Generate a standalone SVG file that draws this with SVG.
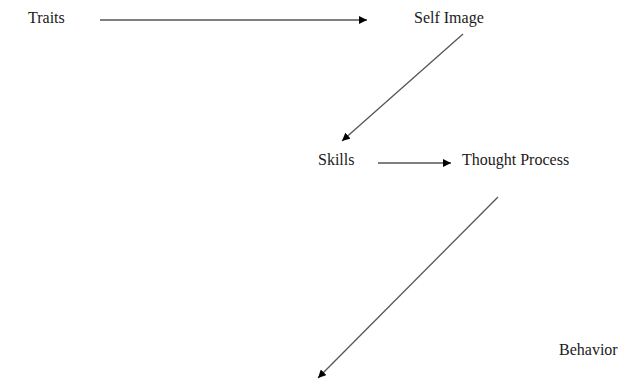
<svg xmlns="http://www.w3.org/2000/svg" width="618" height="379" viewBox="0 0 618 379">
<defs>
<marker id="ah" viewBox="0 0 10 10" refX="10" refY="5" markerWidth="8" markerHeight="8" markerUnits="userSpaceOnUse" orient="auto">
<path d="M0,0 L10,5 L0,10 z" fill="#000"/>
</marker>
<style>
text{font-family:"Liberation Serif","Times New Roman",serif;font-size:16px;fill:#1a1a1a}
.c{stroke:#000;stroke-width:1;fill:none;marker-end:url(#ah)}
.d{stroke:#555;stroke-width:1.3;fill:none;marker-end:url(#ah)}
</style>
</defs>
<rect width="618" height="379" fill="#fff"/>
<g id="traits"><text x="28" y="23">Traits</text></g>
<g id="self-image"><text x="414" y="23">Self Image</text></g>
<g id="skills"><text x="318" y="165">Skills</text></g>
<g id="thought-process"><text x="462" y="165">Thought Process</text></g>
<g id="behavior"><text x="559" y="355">Behavior</text></g>
<g id="connectors">
<line class="c" x1="100" y1="20" x2="367" y2="20"/>
<line class="d" x1="463" y1="34" x2="342" y2="141"/>
<line class="c" x1="378" y1="163" x2="451" y2="163"/>
<line class="d" x1="498" y1="197" x2="318" y2="378"/>
</g>
</svg>
